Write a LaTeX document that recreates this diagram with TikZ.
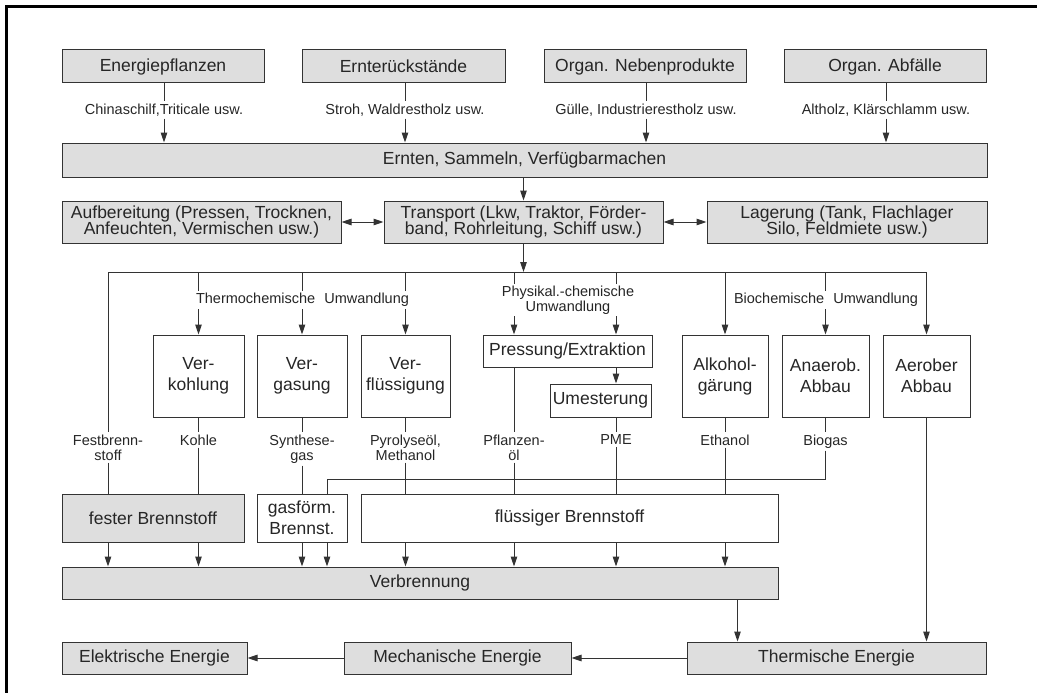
\documentclass[tikz,border=0pt]{standalone}
\usepackage{fontspec}
\setmainfont{Liberation Sans}
\usetikzlibrary{arrows.meta}
\definecolor{kasten}{gray}{0.87}
\definecolor{linie}{gray}{0.2}
\tikzset{
  box/.style={draw=linie,line width=1pt,inner sep=2pt,align=center,text=black!85,font=\fontsize{17.5}{21}\selectfont},
  grau/.style={box,fill=kasten},
  weiss/.style={box,fill=white},
  zweizeilig/.style={font=\fontsize{17.5}{16.5}\selectfont},
  lbl/.style={inner sep=2pt,align=center,text=black!85,font=\fontsize{14.5}{15}\selectfont},
}
\begin{document}
\begin{tikzpicture}[x=1pt,y=-1pt,line width=1pt,color=linie,>={Stealth[length=10pt,width=6.5pt,inset=0pt]}]
\useasboundingbox (0,0) rectangle (1037,693);
\draw[line width=3pt,black] (6,693) -- (6,7) -- (1037,7);
%
% Rohstoffe
\node[grau,minimum width=202pt,minimum height=33pt] (pflanzen) at (163,66.5) {Energiepflanzen};
\node[grau,minimum width=203pt,minimum height=33pt] (rueck) at (403.5,66.5) {Ernterückstände};
\node[grau,minimum width=202pt,minimum height=33pt] (neben) at (645,66.5) {Organ. Nebenprodukte};
\node[grau,minimum width=202pt,minimum height=33pt] (abfall) at (885,66.5) {Organ. Abfälle};
\node[lbl] (lpflanzen) at (164,110) {Chinaschilf,Triticale usw.};
\node[lbl] (lrueck) at (405,110) {Stroh, Waldrestholz usw.};
\node[lbl] (lneben) at (646,110) {Gülle, Industrierestholz usw.};
\node[lbl] (labfall) at (886,110) {Altholz, Klärschlamm usw.};
\node[grau,minimum width=925pt,minimum height=34pt] (ernten) at (524.5,160) {Ernten, Sammeln, Verfügbarmachen};
\foreach \a/\b in {pflanzen/lpflanzen,rueck/lrueck,neben/lneben,abfall/labfall}{
  \draw (\b |- \a.south) -- (\b);
  \draw[->] (\b) -- (\b |- ernten.north);
}
%
% Aufbereitung, Transport, Lagerung
\node[grau,zweizeilig,minimum width=279pt,minimum height=42pt] (aufb) at (201.5,222) {Aufbereitung (Pressen, Trocknen,\\Anfeuchten, Vermischen usw.)};
\node[grau,zweizeilig,minimum width=279pt,minimum height=42pt] (transport) at (523.5,222) {Transport (Lkw, Traktor, Förder-\\band, Rohrleitung, Schiff usw.)};
\node[grau,zweizeilig,minimum width=280pt,minimum height=42pt] (lager) at (847,222) {Lagerung (Tank, Flachlager\\Silo, Feldmiete usw.)};
\draw[->] (transport |- ernten.south) -- (transport.north);
\draw[<->] (aufb) -- (transport);
\draw[<->] (transport) -- (lager);
%
% Umwandlung
\node[weiss,minimum width=91pt,minimum height=82pt] (verkohlung) at (198.5,376) {Ver-\\kohlung};
\node[weiss,minimum width=90pt,minimum height=82pt] (vergasung) at (302,376) {Ver-\\gasung};
\node[weiss,minimum width=89pt,minimum height=82pt] (verfl) at (405.5,376) {Ver-\\flüssigung};
\node[weiss,minimum width=169pt,minimum height=32pt] (pressung) at (567.5,351) {Pressung/Extraktion};
\node[weiss,minimum width=101pt,minimum height=33pt] (umester) at (600.5,400.5) {Umesterung};
\node[weiss,minimum width=86pt,minimum height=82pt] (alkohol) at (725,376) {Alkohol-\\gärung};
\node[weiss,minimum width=87pt,minimum height=82pt] (anaerob) at (825.5,376) {Anaerob.\\Abbau};
\node[weiss,minimum width=87pt,minimum height=82pt] (aerob) at (926.5,376) {Aerober\\Abbau};
%
\node[lbl,anchor=north] (festlbl) at (108,432) {Festbrenn-\\stoff};
\node[lbl,anchor=north] (kohle) at (198.5,432) {Kohle};
\node[lbl,anchor=north] (synth) at (302,432) {Synthese-\\gas};
\node[lbl,anchor=north] (pyro) at (405.5,432) {Pyrolyseöl,\\Methanol};
\node[lbl,anchor=north] (pfloel) at (514,432) {Pflanzen-\\öl};
\node[lbl,anchor=north] (pme) at (616,432) {PME};
\node[lbl,anchor=north] (ethanol) at (725,432) {Ethanol};
\node[lbl,anchor=north] (biogas) at (825.5,432) {Biogas};
%
\coordinate (busW) at (festlbl |- 0,272);
\coordinate (busE) at (aerob |- busW);
\draw (busW) -- (busE);
\draw[->] (transport) -- (transport |- busW);
\draw (busW) -- (festlbl);
\foreach \n in {verkohlung,vergasung,verfl,alkohol,anaerob,aerob}
  \draw[->] (\n |- busW) -- (\n.north);
\draw[->] (pfloel |- busW) -- (pfloel |- pressung.north);
\draw[->] (pme |- busW) -- (pme |- pressung.north);
\draw[->] (pme |- pressung.south) -- (pme |- umester.north);
\node[lbl,fill=white] (thermo) at (302.5,300) {Thermochemische\hspace{5pt} Umwandlung};
\node[lbl,fill=white] (physik) at (568,300) {Physikal.-chemische\\Umwandlung};
\node[lbl,fill=white] (bio) at (826,300) {Biochemische\hspace{5pt} Umwandlung};
%
\draw (kohle |- verkohlung.south) -- (kohle);
\draw (synth |- vergasung.south) -- (synth);
\draw (pyro |- verfl.south) -- (pyro);
\draw (pfloel |- pressung.south) -- (pfloel);
\draw (pme |- umester.south) -- (pme);
\draw (ethanol |- alkohol.south) -- (ethanol);
\draw (biogas |- anaerob.south) -- (biogas);
%
% Brennstoffe
\node[grau,minimum width=182pt,minimum height=48pt] (fest) at (153,518) {fester Brennstoff};
\node[weiss,minimum width=90pt,minimum height=48pt] (gas) at (302,518) {gasförm.\\Brennst.};
\node[weiss,minimum width=417pt,minimum height=48pt] (fluessig) at (569.5,518) {flüssiger Brennstoff};
\node[grau,minimum width=716pt,minimum height=32pt] (verbrennung) at (420,583) {Verbrennung};
\coordinate (knick) at (327,479);
\draw (festlbl) -- (festlbl |- fest.north);
\draw (kohle) -- (kohle |- fest.north);
\draw (synth) -- (synth |- gas.north);
\draw (biogas) |- (knick) -- (knick |- gas.north);
\foreach \k in {pyro,pfloel,pme,ethanol}
  \draw (\k) -- (\k |- fluessig.north);
\foreach \k in {festlbl,kohle,synth,knick,pyro,pfloel,pme,ethanol}
  \draw[->] (\k |- fest.south) -- (\k |- verbrennung.north);
%
% Energie
\node[grau,minimum width=185pt,minimum height=32pt] (elek) at (154.5,658) {Elektrische Energie};
\node[grau,minimum width=227pt,minimum height=32pt] (mech) at (457.5,658) {Mechanische Energie};
\node[grau,minimum width=299pt,minimum height=32pt] (therm) at (836.5,658) {Thermische Energie};
\draw[->] ([xshift=-41pt]verbrennung.south east) -- ([xshift=-41pt]verbrennung.south east |- therm.north);
\draw[->] (aerob) -- (aerob |- therm.north);
\draw[->] (therm) -- (mech);
\draw[->] (mech) -- (elek);
\end{tikzpicture}
\end{document}
